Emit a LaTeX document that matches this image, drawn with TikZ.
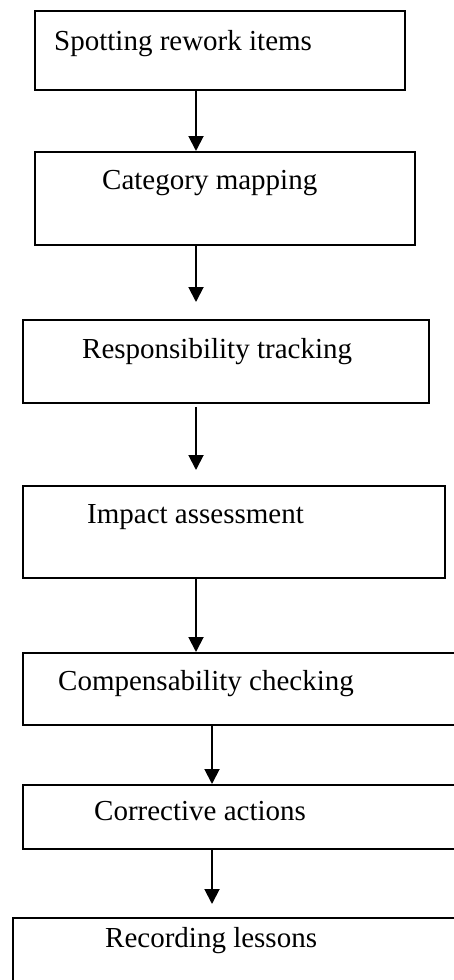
\documentclass[tikz,border=0pt]{standalone}
\usepackage{fontspec}
\setmainfont{Liberation Serif}
\usetikzlibrary{arrows.meta}
\begin{document}
\begin{tikzpicture}[x=1pt,y=-1pt,
  stepbox/.style={draw=black,line width=1.8pt,rectangle,inner sep=0pt,anchor=north west},
  lbl/.style={anchor=base west,inner sep=0pt,font=\fontsize{29}{34}\selectfont},
  arr/.style={line width=1.9pt,-{Triangle[width=15pt,length=15pt]}}]
\useasboundingbox (0,0) rectangle (454,980);
\clip (0,0) rectangle (454,980);
\node[stepbox,minimum width=370.3pt,minimum height=78.4pt] (b1) at (33.7,10.3) {};
\node[stepbox,minimum width=380.3pt,minimum height=92.7pt] (b2) at (33.7,151) {};
\node[stepbox,minimum width=406.3pt,minimum height=83pt] (b3) at (21.7,319) {};
\node[stepbox,minimum width=422.3pt,minimum height=92pt] (b4) at (21.7,485) {};
\node[stepbox,minimum width=460pt,minimum height=72pt] (b5) at (21.7,652) {};
\node[stepbox,minimum width=460pt,minimum height=64pt] (b6) at (21.7,784) {};
\node[stepbox,minimum width=470pt,minimum height=80pt] (b7) at (11.7,917) {};
\node[lbl] (t1) at (54,50) {Spotting rework items};
\node[lbl] (t2) at (102,189) {Category mapping};
\node[lbl] (t3) at (82,358) {Responsibility tracking};
\node[lbl] (t4) at (87,523) {Impact assessment};
\node[lbl] (t5) at (58,690) {Compensability checking};
\node[lbl] (t6) at (94,820) {Corrective actions};
\node[lbl] (t7) at (105,947) {Recording lessons};
\coordinate (ax) at (196,0);
\coordinate (bx) at (212,0);
\draw[arr] (b1.south -| ax) -- (b2.north -| ax);
\draw[arr] (b2.south -| ax) -- ([yshift=17pt]b3.north -| ax);
\draw[arr] ([yshift=-3pt]b3.south -| ax) -- ([yshift=15pt]b4.north -| ax);
\draw[arr] (b4.south -| ax) -- (b5.north -| ax);
\draw[arr] (b5.south -| bx) -- (b6.north -| bx);
\draw[arr] (b6.south -| bx) -- ([yshift=13pt]b7.north -| bx);
\end{tikzpicture}
\end{document}
